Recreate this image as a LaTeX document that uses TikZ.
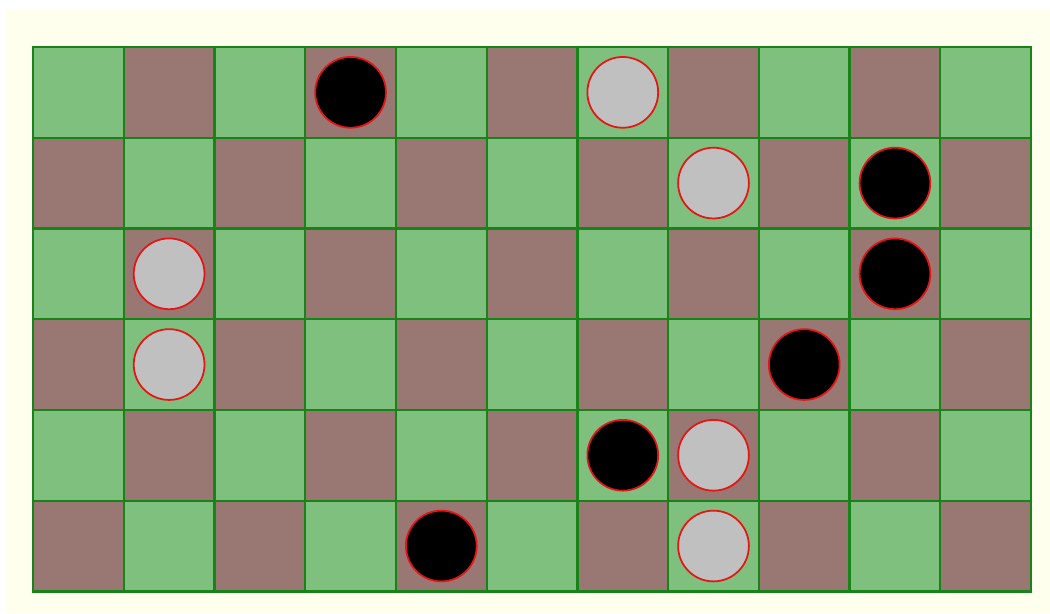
\documentclass[tikz,border=0pt]{standalone}
\usepackage{tikz}
\definecolor{paper}{RGB}{255,255,238}
\definecolor{cellgreen}{RGB}{127,192,127}
\definecolor{cellbrown}{RGB}{153,119,115}
\definecolor{gridgreen}{RGB}{24,132,24}
\definecolor{stonegray}{RGB}{192,192,192}
\definecolor{stonerim}{RGB}{230,20,20}

\begin{document}
\begin{tikzpicture}[x=1cm, y=1cm,
  stone/.style={circle, draw=stonerim, line width=0.55pt, minimum size=0.78cm, inner sep=0pt}]

  % --- Page ---
  \useasboundingbox (-0.364, -0.243) rectangle (11.209, 6.518);
  \fill[white] (-0.364, -0.243) rectangle (11.209, 6.518);
  \fill[paper] (-0.309, -0.243) rectangle (11.209, 6.419);

  % --- Board squares (row 0 at the top) ---
  \fill[cellbrown] (0, 0) rectangle (11, 6);
  \foreach \c in {0, 2, ..., 10} {
    \foreach \r in {0, 2, 4} {
      \fill[cellgreen] (\c, 5-\r) rectangle ++(1, 1);
    }
  }
  \foreach \c in {1, 3, ..., 9} {
    \foreach \r in {1, 3, 5} {
      \fill[cellgreen] (\c, 5-\r) rectangle ++(1, 1);
    }
  }

  % Grid lines
  \draw[gridgreen, line width=0.7pt] (0, 0) grid (11, 6);
  \draw[gridgreen, line width=0.9pt] (0, 0) rectangle (11, 6);

  % --- Stones ---
  \foreach \c/\r/\col in {3/0/black, 6/0/stonegray, 7/1/stonegray, 9/1/black,
                          1/2/stonegray, 9/2/black, 1/3/stonegray, 8/3/black,
                          6/4/black, 7/4/stonegray, 4/5/black, 7/5/stonegray} {
    \node[stone, fill=\col] (stone-\c-\r) at (\c+0.5, 5.5-\r) {};
  }

\end{tikzpicture}
\end{document}
